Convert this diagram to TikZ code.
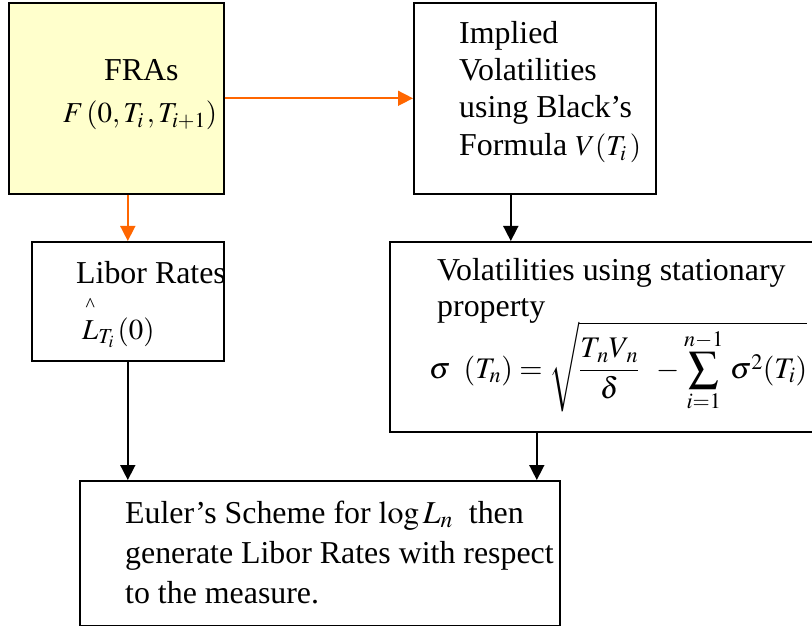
\documentclass[tikz,border=0pt]{standalone}
\usepackage{mathptmx}
\usepackage{amsmath}
\usepackage{fontspec}
\setmainfont{Liberation Serif}
\usetikzlibrary{arrows.meta}
\definecolor{fraYellow}{RGB}{255,255,204}
\definecolor{arrOrange}{RGB}{255,102,0}
\newcommand{\mathsz}{\fontsize{29}{36}\selectfont}
\newcommand{\formsz}{\fontsize{30}{36}\selectfont}
\begin{document}
\begin{tikzpicture}[x=1bp,y=-1bp,
  box/.style={draw=black,line width=1.6bp,inner sep=0pt,anchor=north west},
  txt/.style={anchor=base west,inner sep=0pt,font=\fontsize{32}{40}\selectfont},
  oarrow/.style={draw=arrOrange,line width=1.6bp,-{Triangle[length=15bp,width=15bp]}},
  barrow/.style={draw=black,line width=1.6bp,-{Triangle[length=15bp,width=15bp]}}]
\useasboundingbox (0,0) rectangle (812,626);
% boxes
\node[box,fill=fraYellow,minimum width=215bp,minimum height=191bp] (fra) at (8,2) {};
\node[box,minimum width=242bp,minimum height=191bp] (impl) at (413,2) {};
\node[box,minimum width=192bp,minimum height=119bp] (lib) at (31,241) {};
\node[box,minimum width=430bp,minimum height=190bp] (vol) at (389,241) {};
\node[box,minimum width=480bp,minimum height=145bp] (eul) at (79,480) {};
% texts
\node[txt] (t1) at (104,81) {FRAs};
\node[txt] (t2) at (63,123) {\mathsz$F\,(0,T_{i}\,,T_{i+1})$};
\node[txt] (t3) at (459,44) {Implied};
\node[txt] (t4) at (459,81) {Volatilities};
\node[txt] (t5) at (459,118) {using Black’s};
\node[txt] (t6) at (459,156) {Formula {\mathsz$V(T_{i}\,)$}};
\node[txt] (t7) at (76,283) {Libor Rates};
\node[txt] (t8) at (82,339) {\mathsz$\overset{\raisebox{3bp}{\fontsize{20}{20}\selectfont\textasciicircum}}{L}_{T_i}\,(0)$};
\node[txt] (t9) at (437,280) {Volatilities using stationary};
\node[txt] (t10) at (437,316) {property};
\node[txt] (t11) at (429,378) {\formsz$\displaystyle\sigma\;\;(T_{n})=\sqrt{\frac{T_{\,n}V_{\,n}}{\delta}\;\;-\sum_{i=1}^{n-1}\,\sigma^{2}(T_{i})}$};
\node[txt] (t12) at (125,523) {Euler’s Scheme for $\log L_{n}$\ \ then};
\node[txt] (t13) at (125,563) {generate Libor Rates with respect};
\node[txt] (t14) at (125,603) {to the measure.};
% connectors
\draw[oarrow] (fra.east) -- (impl.west);
\draw[oarrow] (lib.north |- fra.south) -- (lib.north);
\draw[barrow] ([xshift=-24bp]impl.south) -- ([xshift=-24bp]impl.south |- vol.north);
\draw[barrow] (lib.south) -- (lib.south |- eul.north);
\draw[barrow] ([xshift=-68bp]vol.south) -- ([xshift=-68bp]vol.south |- eul.north);
\end{tikzpicture}
\end{document}
